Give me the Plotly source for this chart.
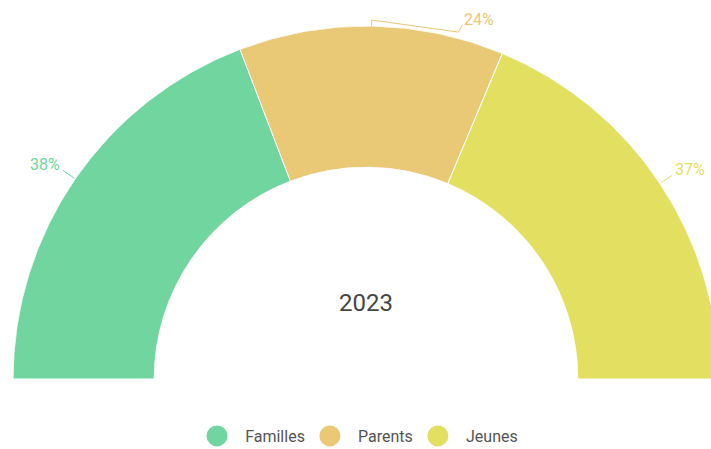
import math
import plotly.graph_objects as go

# ---- data ----
categories = ["Familles", "Parents", "Jeunes"]
values = [38, 24, 37]
colors = ["#71d59f", "#e9c876", "#e3df61"]
center_label = "2023"

# ---- figure geometry (pixels) ----
W, H = 727, 449
ML, MR, MT, MB = 13, 8, 26, 70
PW, PH = W - ML - MR, H - MT - MB
R = PW / 2.0
HOLE = 0.6
CX, CY = ML + R, MT + PH
FONT = "Roboto"

total = sum(values)
spans = [v / total * 180.0 for v in values]
starts = [sum(spans[:i]) for i in range(len(spans))]
mids = [s + w / 2.0 for s, w in zip(starts, spans)]


def px(theta, rr):
    """Point at clockwise angle theta (from 9 o'clock) and radius rr, in pixels."""
    phi = math.radians(180.0 - theta)
    return CX + rr * math.cos(phi), CY - rr * math.sin(phi)


def paper(x, y):
    return (x - ML) / PW, (CY - y) / PH


fig = go.Figure()

# half-donut segments
for cat, val, col, th, w in zip(categories, values, colors, mids, spans):
    fig.add_trace(go.Barpolar(
        r=[1], theta=[th], width=[w], base=0,
        marker=dict(color=col, line=dict(color="white", width=1)),
        name=cat, showlegend=False, hoverinfo="skip",
    ))

# legend entries with round symbols
for cat, col in zip(categories, colors):
    fig.add_trace(go.Scatterpolar(
        r=[None], theta=[None], mode="markers", name="\u2002" + cat,
        marker=dict(color=col, size=16, symbol="circle",
                    line=dict(color=col, width=5)),
        showlegend=True, hoverinfo="skip",
    ))

# outside labels with leader lines
shapes, annotations = [], []
for i, (val, col, th) in enumerate(zip(values, colors, mids)):
    text = f"{val}%"
    if abs(th - 90) < 20:
        # label near the top: route the line along the rim to the right
        p1 = px(th, R)
        p2 = px(th, R + 6)
        p3 = px(th + 14, R + 6)
        p4 = (p3[0] + 4, p3[1] - 7)
        pts = [p1, p2, p3, p4]
        tx, ty, xa = p4[0], p4[1] - 6, "left"
    else:
        p1 = px(th, R + 1)
        p2 = px(th, R + 15)
        pts = [p1, p2]
        left_side = th < 90
        tx, ty = p2[0] + (-1 if left_side else 1), p2[1] - 6
        xa = "right" if left_side else "left"
    path = "M " + " L ".join(f"{paper(x, y)[0]:.5f},{paper(x, y)[1]:.5f}" for x, y in pts)
    shapes.append(dict(type="path", path=path, xref="paper", yref="paper",
                       line=dict(color=col, width=1)))
    ax, ay = paper(tx, ty)
    annotations.append(dict(x=ax, y=ay, xref="paper", yref="paper", text=text,
                            showarrow=False, xanchor=xa, yanchor="middle",
                            font=dict(family=FONT, size=16, color=col)))

# centre caption
cx_p, cy_p = paper(CX, 303)
annotations.append(dict(x=cx_p, y=cy_p, xref="paper", yref="paper", text=center_label,
                        showarrow=False, xanchor="center", yanchor="middle",
                        font=dict(family=FONT, size=24, color="#464646")))

leg_x, leg_y = paper(360, 436)
fig.update_layout(
    width=W, height=H,
    margin=dict(l=ML, r=MR, t=MT, b=MB, pad=0, autoexpand=False),
    paper_bgcolor="white", plot_bgcolor="white",
    font=dict(family=FONT, color="#555555"),
    polar=dict(
        domain=dict(x=[0, 1], y=[0, 1]),
        sector=[0, 180], hole=HOLE, bgcolor="rgba(0,0,0,0)",
        radialaxis=dict(visible=False, range=[0, 1]),
        angularaxis=dict(visible=False, rotation=180, direction="clockwise"),
        barmode="overlay",
    ),
    showlegend=True,
    legend=dict(orientation="h", x=leg_x, y=leg_y, xanchor="center", yanchor="middle",
                font=dict(family=FONT, size=16, color="#555555"),
                itemsizing="trace", bgcolor="rgba(0,0,0,0)"),
    shapes=shapes, annotations=annotations,
)

fig.write_html(
    "out.html",
    post_script="document.documentElement.style.overflow='hidden';document.body.style.overflow='hidden';",
)
